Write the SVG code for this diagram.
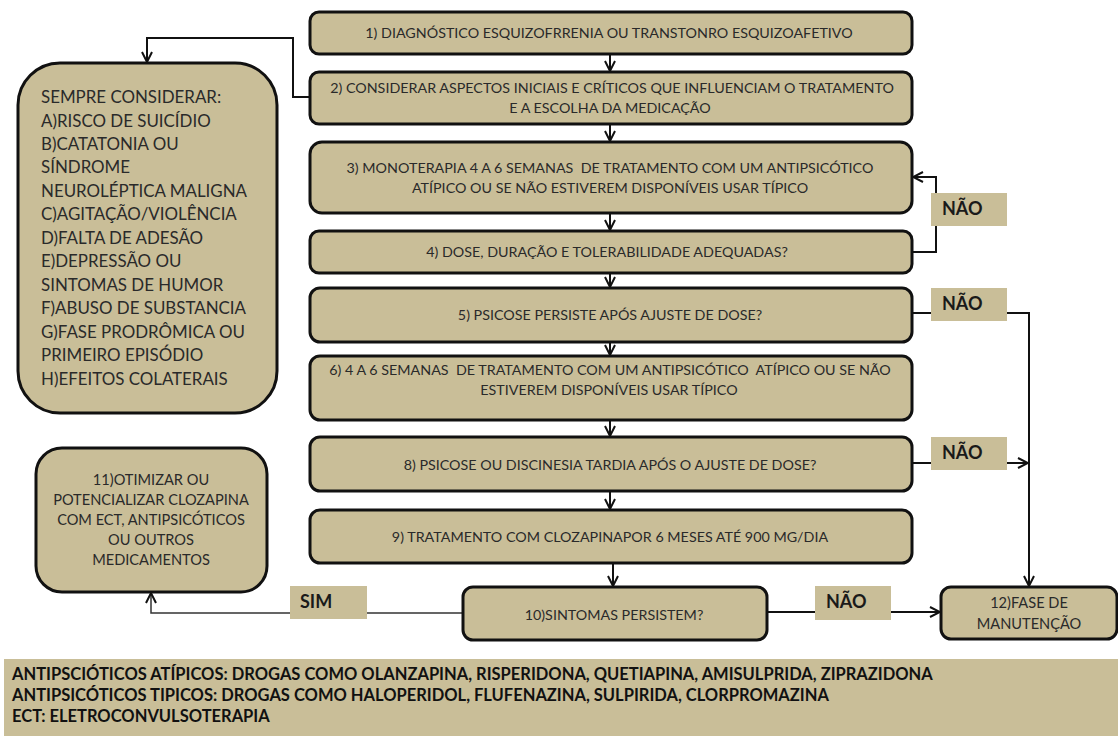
<svg xmlns="http://www.w3.org/2000/svg" width="1118" height="736" viewBox="0 0 1118 736">
<style>
.box{fill:#C9BE98;stroke:#111;stroke-width:3}
.lab{fill:#C9BE98;stroke:none}
.t{font-family:Lato,"Open Sans","Liberation Sans",sans-serif;font-size:14.3px;fill:#2a2a2a;text-anchor:middle}
.t11{font-family:Lato,"Open Sans","Liberation Sans",sans-serif;font-size:14.6px;fill:#2a2a2a;text-anchor:middle}
.tl{font-family:Lato,"Open Sans","Liberation Sans",sans-serif;font-size:16.9px;fill:#2a2a2a}
.tb{font-family:Lato,"Open Sans","Liberation Sans",sans-serif;font-size:18px;font-weight:bold;fill:#1a1a1a}
.leg{font-family:Lato,"Open Sans","Liberation Sans",sans-serif;font-size:16.5px;font-weight:bold;fill:#111}
.c{fill:none;stroke:#111;stroke-width:2}
.c2{fill:none;stroke:#333;stroke-width:1.5}
</style>
<defs>
<marker id="ah" viewBox="0 0 12 12" refX="11" refY="6" markerWidth="12" markerHeight="12" markerUnits="userSpaceOnUse" orient="auto">
<path d="M1,1 L11,6 L1,11" fill="none" stroke="#111" stroke-width="2"/>
</marker>
</defs>
<rect x="0" y="0" width="1118" height="736" fill="#fff"/>

<g id="connectors">
<path class="c" d="M610,54 V71" marker-end="url(#ah)"/>
<path class="c" d="M610,124 V141" marker-end="url(#ah)"/>
<path class="c" d="M610,213 V230" marker-end="url(#ah)"/>
<path class="c" d="M610,273 V287" marker-end="url(#ah)"/>
<path class="c" d="M610,342 V355" marker-end="url(#ah)"/>
<path class="c" d="M610,420 V436" marker-end="url(#ah)"/>
<path class="c" d="M610,491 V509" marker-end="url(#ah)"/>
<path class="c" d="M613,563 V586" marker-end="url(#ah)"/>
<path class="c" d="M310,97 H293 V38 H147 V62" marker-end="url(#ah)"/>
<path class="c" d="M912,252 H936 V177 H913" marker-end="url(#ah)"/>
<path class="c" d="M912,313 H1029 V586" marker-end="url(#ah)"/>
<path class="c" d="M912,463 H1028" marker-end="url(#ah)"/>
<path class="c" d="M767,612 H940" marker-end="url(#ah)"/>
<path class="c2" d="M463,613 H151 V593" marker-end="url(#ah)"/>
</g>

<g id="lab-nao1"><rect class="lab" x="931" y="193" width="76" height="33"/><text class="tb" x="942" y="215">NÃO</text></g>
<g id="lab-nao2"><rect class="lab" x="931" y="288" width="76" height="33"/><text class="tb" x="942" y="310">NÃO</text></g>
<g id="lab-nao3"><rect class="lab" x="931" y="437" width="76" height="33"/><text class="tb" x="942" y="459">NÃO</text></g>
<g id="lab-nao4"><rect class="lab" x="815" y="586" width="76" height="34"/><text class="tb" x="826" y="608">NÃO</text></g>
<g id="lab-sim"><rect class="lab" x="290" y="586" width="77" height="33"/><text class="tb" x="300" y="608">SIM</text></g>

<g id="n1"><rect class="box" x="310" y="12" width="602" height="42" rx="9"/>
<text class="t" x="609" y="38">1) DIAGNÓSTICO ESQUIZOFRRENIA OU TRANSTONRO ESQUIZOAFETIVO</text></g>
<g id="n2"><rect class="box" x="310" y="72" width="602" height="52" rx="9"/>
<text class="t" x="612" y="93">2) CONSIDERAR ASPECTOS INICIAIS E CRÍTICOS QUE INFLUENCIAM O TRATAMENTO</text>
<text class="t" x="610" y="113">E A ESCOLHA DA MEDICAÇÃO</text></g>
<g id="n3"><rect class="box" x="310" y="142" width="602" height="71" rx="12"/>
<text class="t" x="610" y="173" xml:space="preserve">3) MONOTERAPIA 4 A 6 SEMANAS  DE TRATAMENTO COM UM ANTIPSICÓTICO</text>
<text class="t" x="610" y="193">ATÍPICO OU SE NÃO ESTIVEREM DISPONÍVEIS USAR TÍPICO</text></g>
<g id="n4"><rect class="box" x="310" y="231" width="602" height="42" rx="9"/>
<text class="t" x="607" y="257">4) DOSE, DURAÇÃO E TOLERABILIDADE ADEQUADAS?</text></g>
<g id="n5"><rect class="box" x="310" y="288" width="602" height="54" rx="10"/>
<text class="t" x="610" y="320">5) PSICOSE PERSISTE APÓS AJUSTE DE DOSE?</text></g>
<g id="n6"><rect class="box" x="310" y="356" width="602" height="64" rx="10"/>
<text class="t" x="610" y="375" xml:space="preserve">6) 4 A 6 SEMANAS  DE TRATAMENTO COM UM ANTIPSICÓTICO  ATÍPICO OU SE NÃO</text>
<text class="t" x="609" y="395">ESTIVEREM DISPONÍVEIS USAR TÍPICO</text></g>
<g id="n8"><rect class="box" x="310" y="437" width="602" height="54" rx="10"/>
<text class="t" x="610" y="470">8) PSICOSE OU DISCINESIA TARDIA APÓS O AJUSTE DE DOSE?</text></g>
<g id="n9"><rect class="box" x="310" y="510" width="602" height="53" rx="10"/>
<text class="t" x="610" y="542">9) TRATAMENTO COM CLOZAPINAPOR 6 MESES ATÉ 900 MG/DIA</text></g>
<g id="n10"><rect class="box" x="463" y="587" width="304" height="53" rx="10"/>
<text class="t" x="614" y="620">10)SINTOMAS PERSISTEM?</text></g>
<g id="n12"><rect class="box" x="941" y="587" width="176" height="52" rx="10"/>
<text class="t11" x="1029" y="608">12)FASE DE</text>
<text class="t11" x="1029" y="629">MANUTENÇÃO</text></g>
<g id="n11"><rect class="box" x="36" y="448" width="231" height="144" rx="26"/>
<text class="t11" x="151" y="485">11)OTIMIZAR OU</text>
<text class="t11" x="151" y="505">POTENCIALIZAR CLOZAPINA</text>
<text class="t11" x="151" y="525">COM ECT, ANTIPSICÓTICOS</text>
<text class="t11" x="151" y="545">OU OUTROS</text>
<text class="t11" x="151" y="565">MEDICAMENTOS</text></g>
<g id="n0"><rect class="box" x="18" y="63" width="259" height="350" rx="42"/>
<text class="tl" x="41" y="103">SEMPRE CONSIDERAR:</text>
<text class="tl" x="41" y="127">A)RISCO DE SUICÍDIO</text>
<text class="tl" x="41" y="150">B)CATATONIA OU</text>
<text class="tl" x="41" y="173">SÍNDROME</text>
<text class="tl" x="41" y="197">NEUROLÉPTICA MALIGNA</text>
<text class="tl" x="41" y="220">C)AGITAÇÃO/VIOLÊNCIA</text>
<text class="tl" x="41" y="244">D)FALTA DE ADESÃO</text>
<text class="tl" x="41" y="267">E)DEPRESSÃO OU</text>
<text class="tl" x="41" y="291">SINTOMAS DE HUMOR</text>
<text class="tl" x="41" y="314">F)ABUSO DE SUBSTANCIA</text>
<text class="tl" x="41" y="338">G)FASE PRODRÔMICA OU</text>
<text class="tl" x="41" y="361">PRIMEIRO EPISÓDIO</text>
<text class="tl" x="41" y="385">H)EFEITOS COLATERAIS</text></g>

<g id="legend"><rect class="lab" x="4" y="659" width="1114" height="77"/>
<text class="leg" x="12" y="680">ANTIPSCIÓTICOS ATÍPICOS: DROGAS COMO OLANZAPINA, RISPERIDONA, QUETIAPINA, AMISULPRIDA, ZIPRAZIDONA</text>
<text class="leg" x="12" y="701">ANTIPSICÓTICOS TIPICOS: DROGAS COMO HALOPERIDOL, FLUFENAZINA, SULPIRIDA, CLORPROMAZINA</text>
<text class="leg" x="12" y="722">ECT: ELETROCONVULSOTERAPIA</text></g>
</svg>
